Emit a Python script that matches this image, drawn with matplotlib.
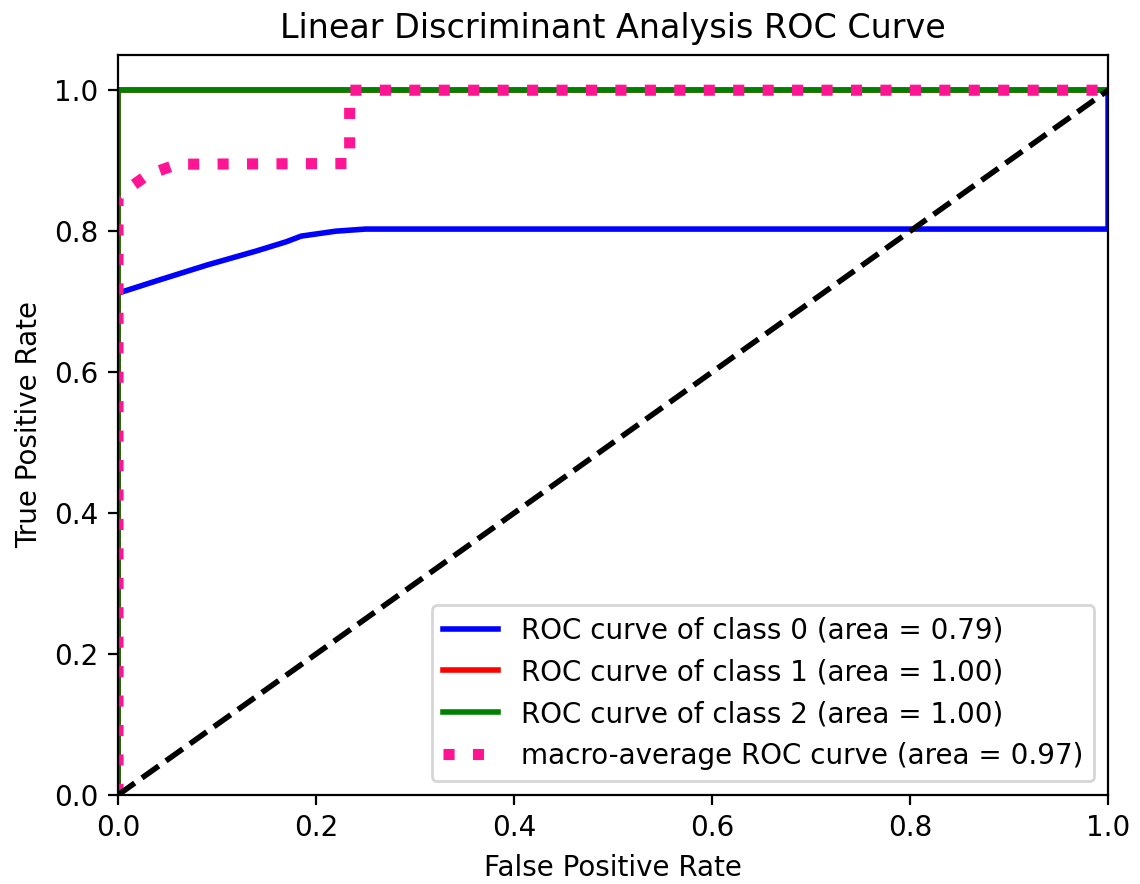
import matplotlib
matplotlib.use("Agg")
import matplotlib.pyplot as plt
import numpy as np

labels = [
    "ROC curve of class 0 (area = 0.79)",
    "ROC curve of class 1 (area = 1.00)",
    "ROC curve of class 2 (area = 1.00)",
    "macro-average ROC curve (area = 0.97)",
]

# ROC points
fpr_0 = [0.0, 0.0, 0.04, 0.09, 0.14, 0.17, 0.185, 0.22, 0.25, 1.0, 1.0]
tpr_0 = [0.0, 0.712, 0.73, 0.752, 0.772, 0.785, 0.793, 0.80, 0.803, 0.803, 1.0]

fpr_1 = [0.0, 0.0, 1.0]
tpr_1 = [0.0, 1.0, 1.0]

fpr_2 = [0.0, 0.0, 1.0]
tpr_2 = [0.0, 1.0, 1.0]

fpr_macro = [0.0, 0.0, 0.01, 0.03, 0.06, 0.234, 0.234, 1.0]
tpr_macro = [0.0, 0.848, 0.86, 0.88, 0.895, 0.896, 1.0, 1.0]

fig = plt.figure(figsize=(5.7, 4.42), dpi=200)
ax = fig.add_axes([0.1035, 0.1007, 0.8685, 0.8371])

ax.plot(fpr_0, tpr_0, color="blue", lw=2, label=labels[0])
ax.plot(fpr_1, tpr_1, color="red", lw=2, label=labels[1])
ax.plot(fpr_2, tpr_2, color="green", lw=2, label=labels[2])
ax.plot(fpr_macro, tpr_macro, color="deeppink", linestyle=":", lw=4, label=labels[3])
ax.plot([0, 1], [0, 1], "k--", lw=2)

ax.set_xlim([0.0, 1.0])
ax.set_ylim([0.0, 1.05])
ax.set_xlabel("False Positive Rate")
ax.set_ylabel("True Positive Rate")
ax.set_title("Linear Discriminant Analysis ROC Curve")
ax.legend(loc="lower right")

fig.savefig("out.png", dpi=200)
